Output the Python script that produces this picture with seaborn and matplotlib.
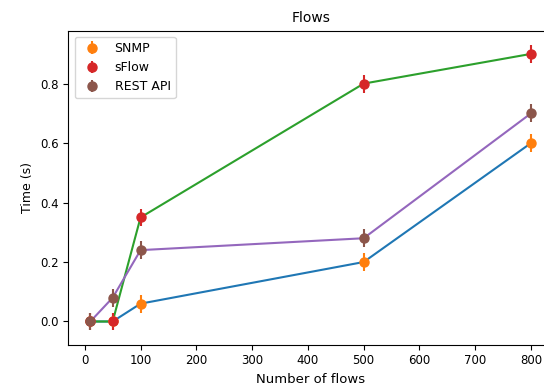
import matplotlib
matplotlib.use("Agg")
import matplotlib.pyplot as plt
import pandas as pd
import seaborn as sns

# Data
flows = [10, 50, 100, 500, 800]
snmp = [0.0, 0.0, 0.06, 0.20, 0.60]
sflow = [0.0, 0.0, 0.35, 0.80, 0.90]
rest_api = [0.0, 0.08, 0.24, 0.28, 0.70]
err = [0.03, 0.03, 0.03, 0.03, 0.03]

series = [("SNMP", snmp), ("sFlow", sflow), ("REST API", rest_api)]
line_colors = ["#1f77b4", "#2ca02c", "#9467bd"]
point_colors = ["#ff7f0e", "#d62728", "#8c564b"]

plt.rcParams["font.size"] = 8.5

fig = plt.figure(figsize=(5.44, 3.92), dpi=100)
# axes runs past the right edge, as in the cropped original
ax = fig.add_axes([0.1256, 0.1207, 0.891, 0.801])

for (name, vals), lc, pc in zip(series, line_colors, point_colors):
    df = pd.DataFrame({"flows": flows, "time": vals})
    sns.lineplot(data=df, x="flows", y="time", color=lc, lw=1.5, ax=ax)
    ax.errorbar(flows, vals, yerr=err, fmt="o", color=pc, ms=6.5,
                elinewidth=1.5, label=name)

ax.set_title("Flows", fontsize=10)
ax.set_xlabel("Number of flows", fontsize=9.5)
ax.set_ylabel("Time (s)", fontsize=9)
ax.set_xlim(-29.5, 839.5)
ax.set_xticks([0, 100, 200, 300, 400, 500, 600, 700, 800])
ax.set_yticks([0.0, 0.2, 0.4, 0.6, 0.8])
ax.spines["right"].set_visible(False)
ax.legend(loc="upper left", fontsize=9)

plt.savefig("out.png", dpi=100)
